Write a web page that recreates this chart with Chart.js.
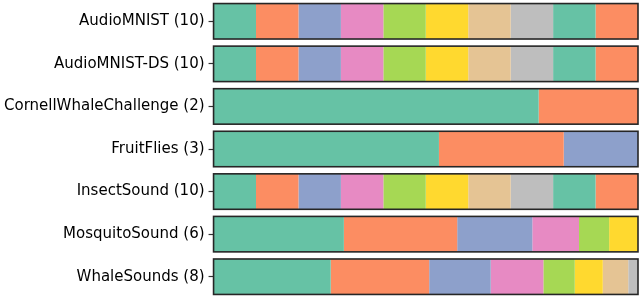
<!DOCTYPE html>
<html>
<head>
<meta charset="utf-8">
<script src="https://cdn.jsdelivr.net/npm/chart.js@4"></script>
<style>
  html, body { margin: 0; padding: 0; background: #fff; }
  #wrap { width: 640px; height: 298px; }
</style>
</head>
<body>
<div id="wrap"><canvas id="canvas"></canvas></div>
<script>
const labels = ['AudioMNIST (10)', 'AudioMNIST-DS (10)', 'CornellWhaleChallenge (2)', 'FruitFlies (3)',
  'InsectSound (10)', 'MosquitoSound (6)', 'WhaleSounds (8)'];

// class shares (%) per dataset
const audioMNIST = [10, 10, 10, 10, 10, 10, 10, 10, 10, 10];
const audioMNISTDS = [10, 10, 10, 10, 10, 10, 10, 10, 10, 10];
const cornell = [76.6, 23.4];
const fruitFlies = [53.1, 29.4, 17.5];
const insectSound = [10, 10, 10, 10, 10, 10, 10, 10, 10, 10];
const mosquitoSound = [30.7, 26.7, 17.7, 11.0, 7.1, 6.8];
const whaleSounds = [27.6, 23.2, 14.5, 12.4, 7.4, 6.6, 6.0, 2.3];

const rows = [audioMNIST, audioMNISTDS, cornell, fruitFlies, insectSound, mosquitoSound, whaleSounds];
const colors = ['#66c2a5', '#fc8d62', '#8da0cb', '#e78ac3', '#a6d854', '#ffd92f', '#e5c494', '#bebebe'];

const datasets = [];
for (let i = 0; i < 10; i++) {
  datasets.push({
    label: 'class ' + i,
    data: rows.map(r => (i < r.length ? r[i] : null)),
    backgroundColor: colors[i % colors.length],
    borderWidth: 0,
    categoryPercentage: 1,
    barPercentage: 0.833,
  });
}

// outline round each whole stacked bar
const outline = {
  id: 'outline',
  afterDatasetsDraw(chart) {
    const ctx = chart.ctx;
    const x = chart.scales.x;
    const meta = chart.getDatasetMeta(0);
    ctx.save();
    ctx.strokeStyle = '#262626';
    ctx.lineWidth = 1.6;
    meta.data.forEach(el => {
      const x0 = x.getPixelForValue(0);
      const x1 = x.getPixelForValue(100);
      ctx.strokeRect(x0, el.y - el.height / 2, x1 - x0, el.height);
    });
    ctx.restore();
  }
};

const chart = new Chart(document.getElementById('canvas'), {
  type: 'bar',
  data: { labels: labels, datasets: datasets },
  options: {
    indexAxis: 'y',
    responsive: true,
    maintainAspectRatio: false,
    animation: false,
    layout: { padding: { top: -2, bottom: -2.5, right: 2, left: 0 } },
    plugins: { legend: { display: false }, tooltip: { enabled: false } },
    scales: {
      x: { stacked: true, min: 0, max: 100, display: false },
      y: {
        stacked: true,
        border: { display: false },
        afterFit(scale) { scale.paddingTop = 0; scale.paddingBottom = 0; },
        grid: { offset: false, drawOnChartArea: false, drawTicks: true, tickLength: 5, tickWidth: 1.2, color: '#333' },
        ticks: { color: '#000', padding: 4, font: { family: 'DejaVu Sans', size: 15 } }
      }
    }
  },
  plugins: [outline]
});
</script>
</body>
</html>
